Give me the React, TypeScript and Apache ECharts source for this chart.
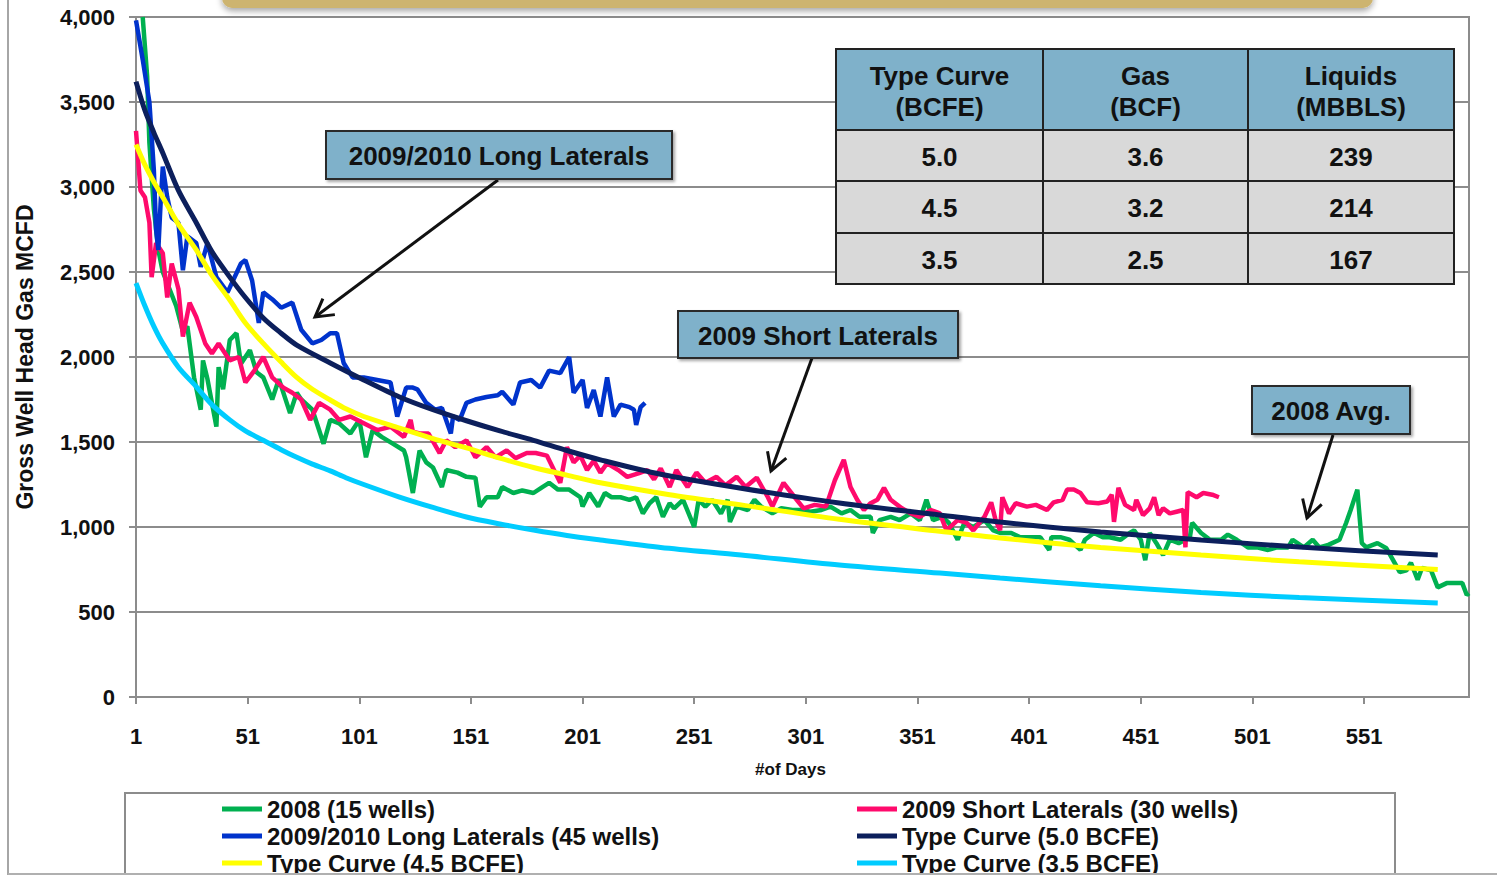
import React, { useEffect, useRef } from "react";
import * as echarts from "echarts";

const FONT = "'Liberation Sans', Arial, Helvetica, sans-serif";

// ---------------- DATA ----------------
const seriesNames = [
  "2008 (15 wells)",
  "2009 Short Laterals (30 wells)",
  "2009/2010 Long Laterals (45 wells)",
  "Type Curve (5.0 BCFE)",
  "Type Curve (4.5 BCFE)",
  "Type Curve (3.5 BCFE)",
];

// [day, MCFD]
const green2008: [number, number][] = [
  [4, 4000], [6, 3650], [7, 3260], [9, 2870], [11, 2630], [13, 2500], [16, 2400], [19, 2300], [22, 2150], [24, 2180],
  [27, 1880], [30, 1690], [31, 1980], [33, 1870], [37, 1590], [38, 1940], [40, 1810], [43, 2100], [46, 2140], [48, 1960],
  [52, 2040], [55, 1910], [58, 1880], [62, 1750], [65, 1870], [70, 1670], [73, 1790], [75, 1750], [80, 1690], [85, 1490],
  [88, 1630], [92, 1610], [97, 1550], [101, 1630], [104, 1410], [107, 1570], [111, 1530], [116, 1490], [121, 1450], [122, 1410],
  [125, 1200], [128, 1450], [131, 1380], [134, 1350], [138, 1235], [140, 1335], [145, 1320], [149, 1295], [153, 1290], [155, 1120],
  [158, 1175], [163, 1175], [165, 1235], [170, 1200], [174, 1215], [179, 1200], [183, 1235], [186, 1260], [190, 1220], [195, 1220],
  [200, 1175], [201, 1120], [204, 1200], [208, 1120], [211, 1200], [214, 1175], [218, 1175], [222, 1160], [225, 1175], [228, 1080],
  [231, 1140], [234, 1175], [237, 1060], [240, 1140], [242, 1110], [246, 1160], [251, 1000], [253, 1160], [256, 1120], [259, 1160],
  [263, 1080], [266, 1160], [267, 1030], [270, 1120], [275, 1100], [278, 1160], [281, 1120], [286, 1080], [290, 1110], [295, 1100],
  [299, 1100], [303, 1090], [308, 1100], [312, 1120], [317, 1080], [321, 1100], [325, 1060], [330, 1060], [331, 965], [334, 1040],
  [339, 1060], [343, 1040], [348, 1080], [352, 1040], [355, 1160], [358, 1040], [362, 1060], [365, 1025], [369, 925], [372, 1025],
  [376, 1000], [381, 1040], [385, 980], [388, 965], [393, 965], [397, 940], [402, 940], [406, 940], [410, 865], [411, 940],
  [415, 940], [419, 925], [424, 865], [426, 925], [430, 965], [434, 940], [437, 940], [442, 925], [446, 965], [448, 980],
  [451, 925], [453, 805], [455, 965], [458, 905], [461, 835], [464, 925], [468, 905], [473, 940], [474, 1025], [478, 965],
  [482, 925], [487, 925], [490, 955], [494, 925], [499, 880], [503, 880], [508, 865], [512, 880], [517, 880], [519, 925],
  [524, 880], [528, 925], [531, 880], [535, 895], [540, 925], [543, 1025], [545, 1100], [548, 1220], [549, 1060], [550, 905],
  [552, 880], [557, 905], [561, 875], [564, 805], [567, 735], [570, 745], [572, 790], [575, 690], [577, 760], [581, 745],
  [584, 645], [588, 670], [593, 670], [595, 670], [597, 600], [598, 610],
];

const pinkShort2009: [number, number][] = [
  [1, 3330], [3, 2980], [5, 2940], [7, 2790], [8, 2470], [10, 2670], [13, 2610], [15, 2350], [17, 2550], [20, 2400],
  [22, 2120], [25, 2320], [28, 2235], [32, 2080], [35, 2020], [38, 2080], [43, 1980], [47, 2000], [50, 1850], [54, 1920],
  [58, 2000], [62, 1880], [67, 1820], [71, 1790], [75, 1750], [79, 1630], [83, 1730], [88, 1690], [92, 1630], [97, 1650],
  [103, 1610], [109, 1570], [115, 1590], [121, 1530], [124, 1630], [125, 1560], [128, 1550], [132, 1550], [137, 1435], [140, 1510],
  [144, 1470], [149, 1510], [153, 1410], [158, 1470], [162, 1410], [167, 1450], [171, 1405], [176, 1435], [180, 1435], [185, 1420],
  [191, 1260], [194, 1470], [197, 1380], [200, 1420], [203, 1335], [206, 1390], [209, 1320], [212, 1375], [217, 1335], [221, 1295],
  [226, 1315], [230, 1335], [233, 1280], [236, 1345], [240, 1235], [243, 1335], [248, 1235], [252, 1320], [256, 1260], [261, 1295],
  [265, 1245], [270, 1295], [274, 1235], [279, 1290], [284, 1175], [286, 1120], [291, 1260], [296, 1175], [300, 1110], [305, 1130],
  [310, 1120], [314, 1275], [318, 1395], [321, 1235], [324, 1160], [327, 1100], [330, 1140], [333, 1160], [336, 1230], [339, 1160],
  [344, 1110], [348, 1080], [352, 1060], [357, 1100], [361, 1080], [364, 980], [369, 1040], [373, 1025], [376, 980], [381, 1060],
  [384, 1145], [386, 1040], [388, 980], [389, 1175], [392, 1080], [395, 1140], [400, 1120], [404, 1130], [409, 1100], [412, 1145],
  [416, 1160], [418, 1220], [421, 1220], [424, 1200], [427, 1145], [432, 1140], [436, 1150], [438, 1190], [439, 1030], [441, 1230],
  [444, 1130], [448, 1100], [449, 1160], [452, 1070], [455, 1110], [457, 1175], [459, 1070], [461, 1110], [464, 1080], [467, 1090],
  [470, 1100], [471, 880], [472, 1205], [476, 1175], [479, 1200], [483, 1190], [486, 1175],
];

const blueLong2010: [number, number][] = [
  [1, 3980], [4, 3750], [7, 3500], [9, 3100], [10, 2750], [11, 2630], [12, 2900], [13, 3120], [15, 2940], [17, 2820],
  [20, 2790], [22, 2510], [24, 2710], [28, 2670], [30, 2530], [33, 2670], [37, 2470], [42, 2380], [48, 2550], [50, 2570],
  [53, 2450], [56, 2200], [58, 2380], [62, 2340], [66, 2290], [71, 2320], [75, 2160], [80, 2080], [84, 2100], [88, 2140],
  [91, 2140], [94, 1965], [98, 1880], [103, 1880], [109, 1865], [115, 1850], [118, 1650], [122, 1820], [125, 1820], [127, 1810],
  [131, 1730], [135, 1690], [138, 1700], [142, 1550], [143, 1650], [146, 1630], [149, 1730], [153, 1750], [158, 1765], [163, 1775],
  [165, 1795], [170, 1720], [173, 1850], [178, 1865], [182, 1820], [186, 1920], [191, 1905], [195, 2000], [197, 1790], [201, 1865],
  [203, 1700], [206, 1805], [209, 1650], [212, 1880], [215, 1650], [218, 1720], [222, 1705], [224, 1690], [225, 1600], [227, 1705],
  [229, 1730],
];

const typeCurve50: [number, number][] = [
  [1, 3620], [5, 3450], [9, 3320], [13, 3200], [20, 2980], [28, 2790], [35, 2620], [43, 2470], [50, 2350], [58, 2230],
  [66, 2140], [73, 2070], [88, 1965], [103, 1865], [119, 1765], [134, 1690], [149, 1625], [164, 1565], [179, 1510], [194, 1450],
  [209, 1395], [236, 1310], [272, 1228], [316, 1141], [361, 1071], [388, 1029], [433, 971], [478, 924], [522, 882], [584, 835],
];

const typeCurve45: [number, number][] = [
  [1, 3250], [5, 3130], [9, 3030], [13, 2940], [20, 2780], [28, 2630], [35, 2480], [43, 2335], [50, 2200], [58, 2080],
  [66, 1970], [73, 1880], [80, 1810], [88, 1747], [95, 1695], [103, 1650], [119, 1582], [134, 1520], [149, 1465], [164, 1405],
  [179, 1350], [194, 1305], [209, 1260], [240, 1190], [272, 1130], [316, 1045], [361, 975], [388, 935], [433, 880], [478, 835],
  [522, 795], [584, 750],
];

const typeCurve35: [number, number][] = [
  [1, 2435], [5, 2300], [9, 2180], [13, 2080], [20, 1940], [28, 1825], [35, 1720], [43, 1630], [50, 1565], [58, 1510],
  [66, 1455], [73, 1410], [80, 1370], [88, 1330], [95, 1290], [103, 1250], [119, 1176], [134, 1115], [149, 1059], [164, 1018],
  [179, 982], [194, 950], [209, 924], [236, 880], [272, 835], [316, 776], [361, 729], [388, 700], [433, 655], [478, 615],
  [522, 585], [584, 553],
];

const tableHeaders = ["Type Curve\n(BCFE)", "Gas\n(BCF)", "Liquids\n(MBBLS)"];
const tableRows = [
  ["5.0", "3.6", "239"],
  ["4.5", "3.2", "214"],
  ["3.5", "2.5", "167"],
];

const calloutTexts = ["2009/2010 Long Laterals", "2009 Short Laterals", "2008 Avg."];

// ---------------- STYLE ----------------
const seriesColors = ["#00b050", "#ff0a6c", "#0033cc", "#0c1f5c", "#ffff00", "#00ccff"];
const GRID_GRAY = "#8c8c8c";
const BOX_FILL = "#7fb1ca";

function arrowElements(x1: number, y1: number, x2: number, y2: number) {
  const dx = x1 - x2;
  const dy = y1 - y2;
  const len = Math.sqrt(dx * dx + dy * dy);
  const ux = dx / len;
  const uy = dy / len;
  const a = Math.PI / 6;
  const L = 20;
  const r1 = [ux * Math.cos(a) - uy * Math.sin(a), ux * Math.sin(a) + uy * Math.cos(a)];
  const r2 = [ux * Math.cos(-a) - uy * Math.sin(-a), ux * Math.sin(-a) + uy * Math.cos(-a)];
  return [
    { type: "line", z: 110, shape: { x1, y1, x2, y2 }, style: { stroke: "#111", lineWidth: 3 } },
    {
      type: "polyline",
      z: 110,
      shape: { points: [[x2 + r1[0] * L, y2 + r1[1] * L], [x2, y2], [x2 + r2[0] * L, y2 + r2[1] * L]] },
      style: { stroke: "#111", lineWidth: 3, fill: "none" },
    },
  ];
}

function textEl(text: string, x: number, y: number, size: number, lineHeight?: number) {
  return {
    type: "text",
    z: 120,
    x,
    y,
    style: {
      text,
      fill: "#111",
      fontFamily: FONT,
      fontWeight: "bold",
      fontSize: size,
      lineHeight: lineHeight || size,
      textAlign: "center",
      textVerticalAlign: "middle",
      align: "center",
      verticalAlign: "middle",
    },
  };
}

function calloutBox(text: string, x: number, y: number, w: number, h: number) {
  return [
    {
      type: "rect",
      z: 115,
      shape: { x, y, width: w, height: h },
      style: {
        fill: BOX_FILL,
        stroke: "#2a2a2a",
        lineWidth: 2,
        shadowBlur: 3,
        shadowOffsetX: 2,
        shadowOffsetY: 2,
        shadowColor: "rgba(0,0,0,0.35)",
      },
    },
    textEl(text, x + w / 2, y + h / 2 + 1, 26),
  ];
}

function buildTable() {
  const els: any[] = [];
  const x0 = 836;
  const colW = [207, 205, 206];
  const rowY = [49, 130, 181, 233, 284];
  let cx = x0;
  colW.forEach((w, c) => {
    els.push({
      type: "rect",
      z: 112,
      shape: { x: cx, y: rowY[0], width: w, height: rowY[1] - rowY[0] },
      style: { fill: BOX_FILL, stroke: "#222", lineWidth: 2 },
    });
    els.push(textEl(tableHeaders[c], cx + w / 2, (rowY[0] + rowY[1]) / 2 + 2, 26, 31));
    tableRows.forEach((row, r) => {
      els.push({
        type: "rect",
        z: 112,
        shape: { x: cx, y: rowY[r + 1], width: w, height: rowY[r + 2] - rowY[r + 1] },
        style: { fill: "#d9d9d9", stroke: "#222", lineWidth: 2 },
      });
      els.push(textEl(row[c], cx + w / 2, (rowY[r + 1] + rowY[r + 2]) / 2 + 1, 26));
    });
    cx += w;
  });
  return els;
}

export default function App() {
  const ref = useRef<HTMLDivElement>(null);

  useEffect(() => {
    if (!ref.current) return;
    const chart = echarts.init(ref.current, undefined, { renderer: "svg" });
    const datasets = [green2008, pinkShort2009, blueLong2010, typeCurve50, typeCurve45, typeCurve35];

    const series = datasets.map((d, i) => ({
      name: seriesNames[i],
      type: "line",
      data: d,
      symbol: "none",
      showSymbol: false,
      smooth: i >= 3 ? 0.3 : false,
      clip: true,
      z: 2 + i,
      lineStyle: { color: seriesColors[i], width: i >= 3 ? 5 : 4.5 },
      itemStyle: { color: seriesColors[i] },
    }));

    const legendBase = {
      orient: "vertical",
      top: 797,
      height: 120,
      itemWidth: 40,
      itemHeight: 5,
      itemGap: 3,
      icon: "rect",
      padding: 0,
      selectedMode: false,
      textStyle: { fontFamily: FONT, fontWeight: "bold", fontSize: 24, color: "#111" },
    };

    const graphicEls: any[] = [
      {
        type: "rect",
        z: 100,
        shape: { x: 222, y: -30, width: 1151, height: 38, r: 10 },
        style: { fill: "#cdb470", shadowBlur: 6, shadowOffsetY: 3, shadowColor: "rgba(0,0,0,0.35)" },
      },
      { type: "line", z: 100, shape: { x1: 8, y1: 0, x2: 8, y2: 875 }, style: { stroke: "#a6a6a6", lineWidth: 2 } },
      { type: "line", z: 100, shape: { x1: 8, y1: 874, x2: 1497, y2: 874 }, style: { stroke: "#b0b0b0", lineWidth: 2 } },
      {
        type: "rect",
        z: 90,
        shape: { x: 125, y: 793, width: 1270, height: 110 },
        style: { fill: "none", stroke: "#8c8c8c", lineWidth: 2 },
      },
      ...buildTable(),
      ...calloutBox(calloutTexts[0], 326, 131, 346, 48),
      ...arrowElements(498, 180, 315, 317),
      ...calloutBox(calloutTexts[1], 678, 311, 280, 47),
      ...arrowElements(812, 358, 771, 471),
      ...calloutBox(calloutTexts[2], 1252, 386, 158, 48),
      ...arrowElements(1333, 435, 1307, 518),
    ];

    const option: any = {
      animation: false,
      backgroundColor: "#ffffff",
      grid: {
        left: 136,
        top: 17,
        right: 28,
        bottom: 178,
        show: true,
        borderColor: GRID_GRAY,
        borderWidth: 2,
        backgroundColor: "transparent",
      },
      xAxis: {
        type: "value",
        min: 1,
        max: 598,
        interval: 50,
        name: "#of Days",
        nameLocation: "middle",
        nameGap: 64,
        nameTextStyle: { fontFamily: FONT, fontWeight: "bold", fontSize: 17, color: "#111", padding: [0, 24, 0, 0] },
        axisLine: { show: true, lineStyle: { color: GRID_GRAY, width: 2 } },
        axisTick: { show: true, length: 7, lineStyle: { color: GRID_GRAY, width: 2 } },
        axisLabel: {
          margin: 28,
          fontFamily: FONT,
          fontWeight: "bold",
          fontSize: 22,
          color: "#111",
          showMaxLabel: false,
          formatter: (v: number) => String(v),
        },
        splitLine: { show: false },
      },
      yAxis: {
        type: "value",
        min: 0,
        max: 4000,
        interval: 500,
        name: "Gross Well Head Gas MCFD",
        nameLocation: "middle",
        nameRotate: 90,
        nameGap: 100,
        nameTextStyle: { fontFamily: FONT, fontWeight: "bold", fontSize: 23, color: "#111" },
        axisLine: { show: true, lineStyle: { color: GRID_GRAY, width: 2 } },
        axisTick: { show: true, length: 7, lineStyle: { color: GRID_GRAY, width: 2 } },
        axisLabel: {
          margin: 21,
          fontFamily: FONT,
          fontWeight: "bold",
          fontSize: 22,
          color: "#111",
          formatter: (v: number) => v.toLocaleString("en-US"),
        },
        splitLine: { show: true, lineStyle: { color: GRID_GRAY, width: 2 } },
      },
      legend: [
        { ...legendBase, left: 222, data: [seriesNames[0], seriesNames[2], seriesNames[4]] },
        { ...legendBase, left: 857, data: [seriesNames[1], seriesNames[3], seriesNames[5]] },
      ],
      series,
      graphic: { elements: graphicEls },
    };

    chart.setOption(option);
    return () => chart.dispose();
  }, []);

  return (
    <div
      ref={ref}
      style={{ position: "fixed", left: 0, top: 0, width: 1497, height: 875, background: "#fff" }}
    />
  );
}
